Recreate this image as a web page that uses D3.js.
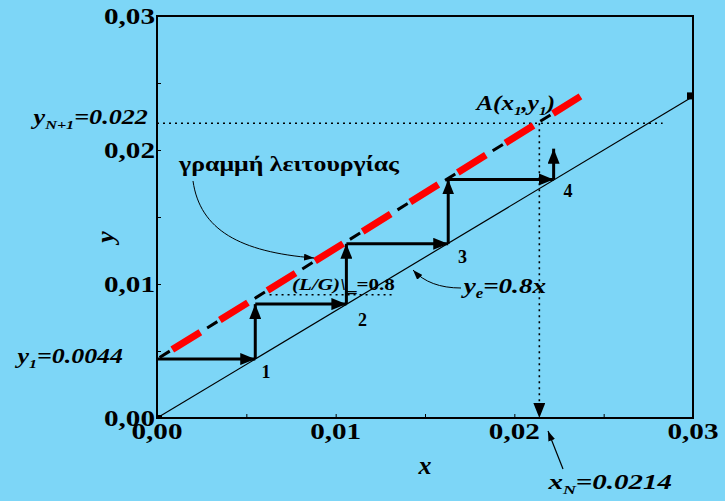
<!DOCTYPE html>
<html>
<head>
<meta charset="utf-8">
<script src="https://cdn.jsdelivr.net/npm/d3@7"></script>
<style>
  body { margin: 0; background: #7dd6f7; }
  svg { display: block; }
  text { font-family: "Liberation Serif", "Times New Roman", serif; font-weight: bold; fill: #000; }
</style>
</head>
<body>
<svg id="chart" width="725" height="501"></svg>
<script>
// Data
const majorTicks = [0, 0.01, 0.02, 0.03];
const tickLabels = ['0,00', '0,01', '0,02', '0,03'];
const minorTicks = [0.005, 0.015, 0.025];

// equilibrium line y = 0.8x
const eqX = [0, 0.03];
const eqY = [0, 0.024];

// operating line
const opX = [0, 0.0237];
const opY = [0.0044, 0.0240];

// staircase corners (x, y)
const stepX = [0, 0.0055, 0.0055, 0.0106, 0.0106, 0.0163, 0.0163, 0.0222, 0.0222];
const stepY = [0.0044, 0.0044, 0.0085, 0.0085, 0.0130, 0.0130, 0.0178, 0.0178, 0.0201];
const stageNames = ['1', '2', '3', '4'];
const stageX = [0.0061, 0.0115, 0.0171, 0.0230];
const stageY = [0.0030, 0.0069, 0.0116, 0.0165];

const xN = 0.0214;
const yN1 = 0.022;
const yN1End = 0.0283;
const lgY = 0.0092;
const lgX = [0.0063, 0.0132];

const svg = d3.select('#chart');

const x = d3.scaleLinear().domain([0, 0.03]).range([157, 693]);
const y = d3.scaleLinear().domain([0, 0.03]).range([418, 16]);

// stretch a text horizontally to the width it has in the original
function fit(sel, w) {
  const b = sel.node().getBBox();
  const anchor = sel.attr('text-anchor');
  const ax = anchor === 'end' ? b.x + b.width : anchor === 'middle' ? b.x + b.width / 2 : b.x;
  const s = w / b.width;
  sel.attr('transform', `translate(${ax},0) scale(${s},1) translate(${-ax},0)`);
  return sel;
}

const defs = svg.append('defs');
function marker(id, len, wid) {
  defs.append('marker')
    .attr('id', id)
    .attr('markerUnits', 'userSpaceOnUse')
    .attr('viewBox', `0 0 ${len} ${wid}`)
    .attr('refX', len).attr('refY', wid / 2)
    .attr('markerWidth', len).attr('markerHeight', wid)
    .attr('orient', 'auto')
    .append('path')
      .attr('d', `M0,0L${len},${wid / 2}L0,${wid}Z`)
      .attr('fill', '#000');
}
marker('big', 15, 12);
marker('small', 10, 7);

// frame
svg.append('rect')
  .attr('x', x(0)).attr('y', y(0.03))
  .attr('width', x(0.03) - x(0)).attr('height', y(0) - y(0.03))
  .attr('fill', 'none').attr('stroke', '#000').attr('stroke-width', 2);

// axes with inward ticks
const gx = svg.append('g').attr('transform', `translate(0,${y(0)})`)
  .call(d3.axisTop(x).tickValues(majorTicks.concat(minorTicks)).tickSize(4).tickFormat(''));
const gy = svg.append('g').attr('transform', `translate(${x(0)},0)`)
  .call(d3.axisRight(y).tickValues(majorTicks.concat(minorTicks)).tickSize(4).tickFormat(''));
[gx, gy].forEach(g => { g.select('.domain').remove(); g.selectAll('line').attr('stroke', '#000'); });

svg.append('g').selectAll('text')
  .data(majorTicks).enter().append('text')
    .attr('x', d => x(d)).attr('y', 439)
    .attr('text-anchor', 'middle')
    .attr('font-size', 24)
    .text((d, i) => tickLabels[i])
    .each(function () { fit(d3.select(this), 51); });

svg.append('g').selectAll('text')
  .data(majorTicks).enter().append('text')
    .attr('x', 155).attr('y', d => y(d) + 8)
    .attr('text-anchor', 'end')
    .attr('font-size', 24)
    .text((d, i) => tickLabels[i])
    .each(function () { fit(d3.select(this), 51); });

// axis titles
svg.append('text').attr('x', 425).attr('y', 474)
  .attr('text-anchor', 'middle').attr('font-size', 26).attr('font-style', 'italic').text('x');
svg.append('text').attr('transform', 'translate(114,237) rotate(-90)')
  .attr('text-anchor', 'middle').attr('font-size', 26).attr('font-style', 'italic').text('y');

const line = d3.line().x(d => x(d[0])).y(d => y(d[1]));

// equilibrium line
svg.append('path')
  .datum(eqX.map((d, i) => [d, eqY[i]]))
  .attr('d', line).attr('fill', 'none').attr('stroke', '#000').attr('stroke-width', 1.2);
svg.append('rect').attr('x', x(eqX[1]) - 6).attr('y', y(eqY[1]) - 4).attr('width', 6).attr('height', 7).attr('fill', '#000');
svg.append('rect').attr('x', x(0)).attr('y', y(0) - 3).attr('width', 5).attr('height', 4).attr('fill', '#000');

// dotted guides
const dotted = { stroke: '#000', 'stroke-width': 1.6, 'stroke-dasharray': '2,4' };
function applyAttrs(sel, o) { Object.entries(o).forEach(([k, v]) => sel.attr(k, v)); return sel; }
applyAttrs(svg.append('line')
  .attr('x1', x(0)).attr('x2', x(yN1End)).attr('y1', y(yN1)).attr('y2', y(yN1)), dotted);
applyAttrs(svg.append('line')
  .attr('x1', x(xN)).attr('x2', x(xN)).attr('y1', y(yN1)).attr('y2', y(0))
  .attr('marker-end', 'url(#big)'), dotted);
applyAttrs(svg.append('line')
  .attr('x1', x(lgX[0])).attr('x2', x(lgX[1])).attr('y1', y(lgY)).attr('y2', y(lgY)), dotted);

// operating line: black dashes under thick red dashes
const opData = opX.map((d, i) => [d, opY[i]]);
svg.append('path').datum(opData).attr('d', line)
  .attr('fill', 'none').attr('stroke', '#000').attr('stroke-width', 3)
  .attr('stroke-dasharray', '12,44').attr('stroke-dashoffset', -3);
svg.append('path').datum(opData).attr('d', line)
  .attr('fill', 'none').attr('stroke', '#ff0000').attr('stroke-width', 7)
  .attr('stroke-dasharray', '33,23').attr('stroke-dashoffset', 38);

// staircase arrows
for (let i = 0; i < stepX.length - 1; i++) {
  svg.append('line')
    .attr('x1', x(stepX[i])).attr('y1', y(stepY[i]))
    .attr('x2', x(stepX[i + 1])).attr('y2', y(stepY[i + 1]))
    .attr('stroke', '#000').attr('stroke-width', 3)
    .attr('marker-end', 'url(#big)');
}

svg.append('g').selectAll('text')
  .data(stageNames).enter().append('text')
    .attr('x', (d, i) => x(stageX[i])).attr('y', (d, i) => y(stageY[i]))
    .attr('text-anchor', 'middle').attr('font-size', 18)
    .text(d => d);

// labels with subscripts
function subLabel(px, py, parts, size, w) {
  const t = svg.append('text').attr('x', px).attr('y', py)
    .attr('font-size', size).attr('font-style', 'italic');
  parts.forEach(p => {
    t.append('tspan')
      .attr('font-size', p.sub ? size * 0.62 : size)
      .attr('dy', p.sub ? 5 : (p.up ? -5 : 0))
      .text(p.t);
  });
  return fit(t, w);
}
subLabel(33, 124, [{ t: 'y' }, { t: 'N+1', sub: true }, { t: '=0.022', up: true }], 20, 117);
subLabel(17, 363, [{ t: 'y' }, { t: '1', sub: true }, { t: '=0.0044', up: true }], 20, 108);
subLabel(476, 110, [{ t: 'A(x' }, { t: '1', sub: true }, { t: ',y', up: true }, { t: '1', sub: true }, { t: ')', up: true }], 20, 81);
subLabel(463, 293, [{ t: 'y' }, { t: 'e', sub: true }, { t: '=0.8x', up: true }], 22, 86);
subLabel(548, 489, [{ t: 'x' }, { t: 'N', sub: true }, { t: '=0.0214', up: true }], 20, 125);

const lg = svg.append('text').attr('x', 292).attr('y', 290).attr('font-size', 17);
lg.append('tspan').attr('font-style', 'italic').text('(L/G)\\');
lg.append('tspan').text('\u2017=0.8');
fit(lg, 103);

fit(svg.append('text').attr('x', 289).attr('y', 171)
  .attr('text-anchor', 'middle').attr('font-size', 20)
  .text('γραμμή λειτουργίας'), 222);

// annotation arrows
svg.append('path')
  .attr('d', 'M193,181 C200,230 240,252 314,258')
  .attr('fill', 'none').attr('stroke', '#000').attr('stroke-width', 1)
  .attr('marker-end', 'url(#small)');
svg.append('path')
  .attr('d', 'M461,288 C440,288 424,282 413,270')
  .attr('fill', 'none').attr('stroke', '#000').attr('stroke-width', 1)
  .attr('marker-end', 'url(#small)');
svg.append('path')
  .attr('d', 'M563,469 L548,431')
  .attr('fill', 'none').attr('stroke', '#000').attr('stroke-width', 1.2)
  .attr('marker-end', 'url(#small)');
</script>
</body>
</html>
